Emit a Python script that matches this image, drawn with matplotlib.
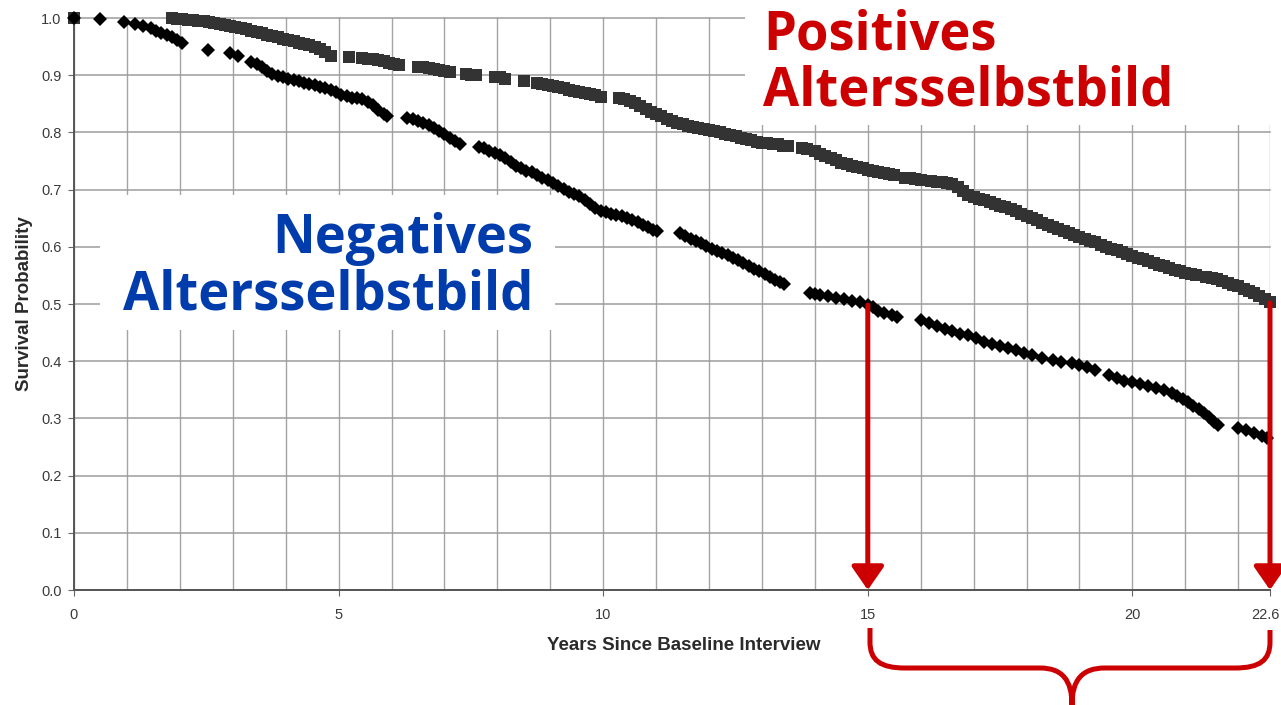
import matplotlib
matplotlib.use("Agg")
import matplotlib.pyplot as plt
import matplotlib.transforms as mtransforms
from matplotlib.patches import Rectangle, PathPatch, FancyArrowPatch
from matplotlib.path import Path

# ---------------- data ----------------
pos_years = [0.0,
             1.85, 1.95, 2.05, 2.15, 2.25, 2.35, 2.45, 2.55, 2.65, 2.75, 2.85, 2.95, 3.05, 3.15, 3.25,
             3.35, 3.45, 3.55, 3.65, 3.75, 3.85, 3.95, 4.05, 4.15, 4.25, 4.35, 4.45, 4.55, 4.65, 4.75, 4.85,
             5.2,
             5.45, 5.55, 5.65, 5.75, 5.85, 5.95, 6.05, 6.15,
             6.5, 6.6, 6.7, 6.8, 6.9, 7.0, 7.1,
             7.4, 7.5, 7.6,
             7.95, 8.05, 8.15,
             8.5,
             8.75, 8.85, 8.95, 9.05, 9.15, 9.25, 9.35, 9.45, 9.55, 9.65, 9.75, 9.85, 9.95,
             10.3, 10.4, 10.5, 10.6, 10.7, 10.8, 10.9, 11.0, 11.1, 11.2, 11.3, 11.4, 11.5, 11.6, 11.7,
             11.8, 11.9, 12.0, 12.1, 12.2, 12.3, 12.4, 12.5, 12.6, 12.7, 12.8, 12.9, 13.0, 13.1, 13.2,
             13.3, 13.4, 13.5,
             13.75, 13.85,
             14.0, 14.1, 14.2, 14.3, 14.4, 14.5, 14.6, 14.7, 14.8, 14.9, 15.0, 15.1, 15.2, 15.3, 15.4, 15.5,
             15.7, 15.8, 15.9, 16.0,
             16.2, 16.3, 16.4, 16.5, 16.6, 16.7, 16.8, 16.9, 17.0, 17.1, 17.2, 17.3, 17.4, 17.5, 17.6,
             17.7, 17.8, 17.9, 18.0, 18.1, 18.2, 18.3, 18.4, 18.5, 18.6, 18.7, 18.8, 18.9, 19.0, 19.1,
             19.2, 19.3, 19.4, 19.5, 19.6, 19.7, 19.8, 19.9, 20.0, 20.1, 20.2, 20.3, 20.4, 20.5, 20.6,
             20.7, 20.8, 20.9, 21.0, 21.1, 21.2,
             21.4, 21.5, 21.6, 21.7, 21.8, 21.9, 22.0, 22.1, 22.2, 22.3, 22.4, 22.5, 22.6]
pos_surv = [1.0,
            1.0, 0.999, 0.998, 0.997, 0.996, 0.995, 0.994, 0.993, 0.992, 0.99, 0.988, 0.986, 0.984, 0.982, 0.98,
            0.977, 0.975, 0.973, 0.971, 0.969, 0.967, 0.964, 0.962, 0.96, 0.957, 0.955, 0.952, 0.949, 0.945, 0.94, 0.934,
            0.932,
            0.93, 0.929, 0.928, 0.926, 0.924, 0.922, 0.92, 0.918,
            0.915, 0.914, 0.912, 0.91, 0.909, 0.908, 0.906,
            0.902, 0.901, 0.9,
            0.897, 0.896, 0.894,
            0.89,
            0.887, 0.885, 0.883, 0.881, 0.879, 0.877, 0.875, 0.873, 0.871, 0.869, 0.867, 0.865, 0.862,
            0.86, 0.858, 0.855, 0.851, 0.846, 0.841, 0.836, 0.832, 0.828, 0.824, 0.82, 0.817, 0.814, 0.812, 0.81,
            0.808, 0.806, 0.804, 0.802, 0.8, 0.798, 0.796, 0.794, 0.791, 0.788, 0.786, 0.784, 0.782, 0.781, 0.78,
            0.779, 0.777, 0.776,
            0.773, 0.771,
            0.767, 0.763, 0.759, 0.755, 0.751, 0.747, 0.744, 0.741, 0.739, 0.737, 0.735, 0.733, 0.731, 0.729, 0.727, 0.725,
            0.721, 0.72, 0.718, 0.716,
            0.715, 0.714, 0.713, 0.712, 0.709, 0.704, 0.697, 0.691, 0.687, 0.684, 0.681, 0.678, 0.675, 0.672, 0.669,
            0.666, 0.662, 0.658, 0.654, 0.65, 0.646, 0.642, 0.638, 0.634, 0.631, 0.628, 0.625, 0.621, 0.618, 0.614,
            0.611, 0.608, 0.604, 0.6, 0.597, 0.594, 0.591, 0.588, 0.584, 0.581, 0.578, 0.575, 0.572, 0.569, 0.566,
            0.563, 0.56, 0.558, 0.555, 0.553, 0.55,
            0.547, 0.545, 0.543, 0.54, 0.537, 0.534, 0.531, 0.527, 0.523, 0.519, 0.514, 0.509, 0.503]

neg_years = [0.0, 0.5, 0.95, 1.15, 1.3, 1.45, 1.55, 1.65, 1.75, 1.85, 1.95, 2.05,
             2.53, 2.95, 3.1,
             3.35, 3.45, 3.55, 3.65, 3.75, 3.85, 3.95, 4.05, 4.15, 4.25, 4.35, 4.45, 4.55, 4.65, 4.75, 4.85,
             4.95, 5.05, 5.15, 5.25, 5.35, 5.45, 5.55, 5.65, 5.75, 5.85, 5.92,
             6.3, 6.4, 6.5, 6.6, 6.7, 6.8, 6.9, 7.0, 7.1, 7.2, 7.3,
             7.65, 7.75, 7.85, 7.95, 8.05, 8.15, 8.25, 8.35, 8.45, 8.55, 8.65, 8.75, 8.85, 8.95, 9.05,
             9.15, 9.25, 9.35, 9.45, 9.55, 9.65, 9.75, 9.85, 9.95, 10.05, 10.15, 10.25, 10.35, 10.45,
             10.55, 10.65, 10.75, 10.85, 10.95, 11.02,
             11.45, 11.55, 11.65, 11.75, 11.85, 11.95, 12.05, 12.15, 12.25, 12.35, 12.45, 12.55, 12.65,
             12.75, 12.85, 12.95, 13.05, 13.15, 13.25, 13.35, 13.42,
             13.9, 14.0, 14.1, 14.25, 14.4, 14.55, 14.7, 14.85, 15.0, 15.1, 15.2, 15.3, 15.45, 15.55,
             16.0, 16.15, 16.3, 16.45, 16.6, 16.75, 16.9, 17.05, 17.2, 17.35, 17.5, 17.65, 17.8, 17.95,
             18.1, 18.3, 18.5, 18.65, 18.85, 19.0, 19.15, 19.3, 19.55, 19.7, 19.85, 20.0, 20.15, 20.3,
             20.45, 20.6, 20.75, 20.85, 20.95, 21.05, 21.15, 21.25, 21.35, 21.45, 21.55, 21.62,
             22.0, 22.15, 22.3, 22.45, 22.55]
neg_surv = [1.0, 0.998, 0.993, 0.99, 0.986, 0.982, 0.978, 0.974, 0.97, 0.966, 0.962, 0.957,
            0.944, 0.938, 0.934,
            0.923, 0.919, 0.914, 0.908, 0.902, 0.898, 0.896, 0.894, 0.891, 0.889, 0.887, 0.885, 0.883, 0.88, 0.877, 0.874,
            0.87, 0.866, 0.863, 0.861, 0.86, 0.858, 0.854, 0.848, 0.84, 0.832, 0.828,
            0.826, 0.823, 0.82, 0.817, 0.813, 0.808, 0.803, 0.797, 0.791, 0.785, 0.779,
            0.775, 0.772, 0.768, 0.764, 0.76, 0.755, 0.748, 0.742, 0.737, 0.733, 0.73, 0.726, 0.721, 0.716, 0.711,
            0.706, 0.701, 0.696, 0.692, 0.688, 0.682, 0.674, 0.668, 0.663, 0.66, 0.658, 0.656, 0.653, 0.65,
            0.647, 0.643, 0.638, 0.634, 0.63, 0.627,
            0.624, 0.619, 0.614, 0.61, 0.606, 0.601, 0.597, 0.593, 0.589, 0.585, 0.581, 0.577, 0.572,
            0.567, 0.562, 0.557, 0.552, 0.547, 0.542, 0.538, 0.535,
            0.52, 0.518, 0.516, 0.514, 0.511, 0.508, 0.506, 0.503, 0.499, 0.494, 0.488, 0.484, 0.48, 0.477,
            0.472, 0.466, 0.461, 0.457, 0.452, 0.448, 0.446, 0.44, 0.434, 0.43, 0.427, 0.423, 0.419, 0.415,
            0.411, 0.406, 0.402, 0.399, 0.396, 0.393, 0.389, 0.385, 0.376, 0.37, 0.366, 0.363, 0.36, 0.357,
            0.353, 0.349, 0.345, 0.34, 0.334, 0.328, 0.322, 0.317, 0.31, 0.302, 0.294, 0.289,
            0.284, 0.28, 0.275, 0.27, 0.266]

x_ticks = [0, 5, 10, 15, 20, 22.6]
x_ticklabels = ["0", "5", "10", "15", "20", "22.6"]
y_ticks = [0.0, 0.1, 0.2, 0.3, 0.4, 0.5, 0.6, 0.7, 0.8, 0.9, 1.0]
y_ticklabels = ["0.0", "0.1", "0.2", "0.3", "0.4", "0.5", "0.6", "0.7", "0.8", "0.9", "1.0"]
arrow_years = [15, 22.6]
arrow_surv = [0.498, 0.502]

pos_lines = ["Positives", "Altersselbstbild"]
neg_lines = ["Negatives", "Altersselbstbild"]
x_title = "Years Since Baseline Interview"
y_title = "Survival Probability"

RED = "#CC0000"
BLUE = "#003CAB"

# ---------------- figure ----------------
W, H = 1281, 705
fig = plt.figure(figsize=(W / 100, H / 100), dpi=100)
fig.patch.set_facecolor("white")

def fx(px):
    return px / W

def fy(py):
    return 1 - py / H

ax = fig.add_axes([fx(74), fy(590), fx(1270) - fx(74), fy(18) - fy(590)])
ax.set_xlim(0, 22.6)
ax.set_ylim(0, 1.0)
ax.set_facecolor("white")
ax.set_axisbelow(True)

# grid every year and every 0.1
for yr in range(0, 23):
    ax.axvline(yr, color="#a4a4a4", lw=1.0, zorder=0.5)
ax.axvline(22.6, color="#a4a4a4", lw=1.0, zorder=0.5)
for v in y_ticks:
    ax.axhline(v, color="#9c9c9c", lw=1.1, zorder=0.5, clip_on=False)

for s in ["top", "right"]:
    ax.spines[s].set_visible(False)
for s in ["left", "bottom"]:
    ax.spines[s].set_color("#555555")
    ax.spines[s].set_linewidth(1.4)

ax.set_xticks(x_ticks)
ax.set_xticklabels(x_ticklabels)
ax.set_yticks(y_ticks)
ax.set_yticklabels(y_ticklabels)
ax.tick_params(axis="both", colors="#666666", labelcolor="#3a3a3a", labelsize=10.5,
               length=4, width=0.8)
ax.tick_params(axis="x", pad=9)
ax.tick_params(axis="y", pad=5)
for t in ax.get_xticklabels() + ax.get_yticklabels():
    t.set_fontfamily("Liberation Sans")
# keep the last x label (22.6) inside the figure edge
last = ax.get_xticklabels()[-1]
last.set_transform(last.get_transform() +
                   mtransforms.ScaledTranslation(-5 / 100, 0, fig.dpi_scale_trans))

ax.set_xlabel(x_title, fontsize=13.5, fontweight="bold", color="#2a2a2a",
              family="Liberation Sans", labelpad=12)
ax.xaxis.set_label_coords((684 - 74) / (1270 - 74), -(646 - 590) / (590 - 18))
ax.xaxis.label.set_va("center")
ax.set_ylabel(y_title, fontsize=13.5, fontweight="bold", color="#2a2a2a",
              family="Liberation Sans")
ax.yaxis.set_label_coords(-(74 - 25) / (1270 - 74), 0.5)
ax.yaxis.label.set_va("center")

# white boxes behind the annotations
ax.add_patch(Rectangle((fx(745), fy(125)), fx(1281) - fx(745), fy(0) - fy(125),
                       transform=fig.transFigure, facecolor="white", edgecolor="none",
                       zorder=1, clip_on=False))
ax.add_patch(Rectangle((fx(100), fy(330)), fx(555) - fx(100), fy(195) - fy(330),
                       transform=fig.transFigure, facecolor="white", edgecolor="none",
                       zorder=1, clip_on=False))

# survival curves
ax.plot(pos_years, pos_surv, linestyle="none", marker="s", markersize=8.3,
        color="#333333", markeredgewidth=0, zorder=3, clip_on=False)
ax.plot(neg_years, neg_surv, linestyle="none", marker="D", markersize=6.8,
        color="black", markeredgewidth=0, zorder=3.1, clip_on=False)

# red arrows
for xv, yv in zip(arrow_years, arrow_surv):
    arr = FancyArrowPatch((xv, yv), (xv, 0.0), arrowstyle="-|>,head_length=0.65,head_width=0.45",
                          mutation_scale=22, color=RED, lw=3.6, shrinkA=0, shrinkB=0,
                          zorder=4, clip_on=False)
    ax.add_patch(arr)

# red brace below the axis
verts = [(870, 628), (870, 642), (870, 660), (880, 668), (905, 668),
         (1040, 668), (1062, 668), (1072, 680), (1072, 705),
         (1270, 630), (1270, 642), (1270, 660), (1260, 668), (1235, 668),
         (1105, 668), (1082, 668), (1072, 680), (1072, 705)]
codes = [Path.MOVETO, Path.LINETO, Path.CURVE4, Path.CURVE4, Path.CURVE4,
         Path.LINETO, Path.CURVE4, Path.CURVE4, Path.CURVE4,
         Path.MOVETO, Path.LINETO, Path.CURVE4, Path.CURVE4, Path.CURVE4,
         Path.LINETO, Path.CURVE4, Path.CURVE4, Path.CURVE4]
brace = Path([(fx(a), fy(b)) for a, b in verts], codes)
fig.patches.append(PathPatch(brace, transform=fig.transFigure, facecolor="none",
                             edgecolor=RED, lw=3.6, capstyle="butt"))

# annotation texts, one line each, sized so that the long line spans ~410 px
renderer = fig.canvas.get_renderer()
def fit_text(x, y, s, color, ha, target_w=None, size=None):
    t = fig.text(fx(x), fy(y), s, color=color, fontsize=size or 38, fontweight="bold",
                 family="Open Sans", ha=ha, va="baseline", zorder=6)
    if target_w is not None:
        w = t.get_window_extent(renderer).width
        t.set_fontsize(38 * target_w / w)
    return t

tl = fit_text(763, 105, pos_lines[1], RED, "left", target_w=410)
fs = tl.get_fontsize()
fit_text(763, 49, pos_lines[0], RED, "left", size=fs)
fit_text(533, 310, neg_lines[1], BLUE, "right", size=fs)
fit_text(533, 253, neg_lines[0], BLUE, "right", size=fs)

fig.savefig("out.png", dpi=100, facecolor="white")
